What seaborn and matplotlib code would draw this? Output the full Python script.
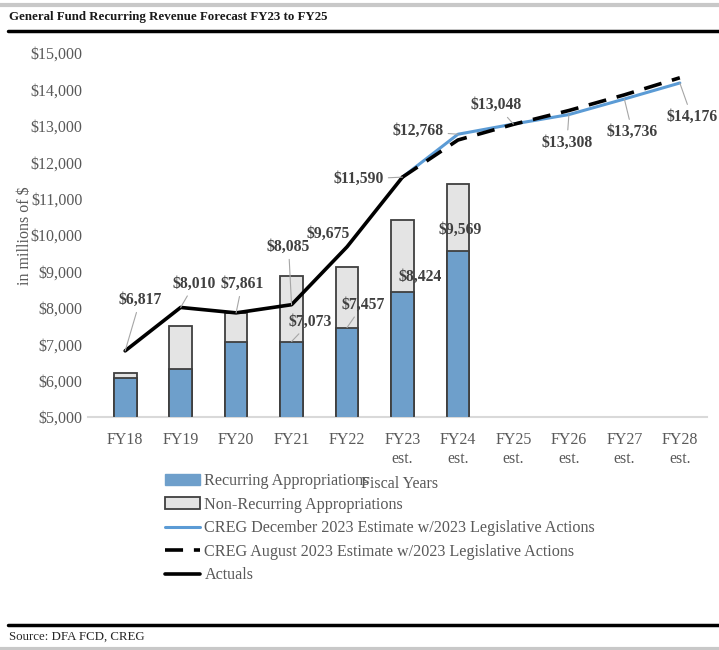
import matplotlib
matplotlib.use("Agg")
import matplotlib.pyplot as plt
import numpy as np
import pandas as pd
import seaborn as sns
from matplotlib.lines import Line2D
from matplotlib.patches import Patch

categories = ["FY18", "FY19", "FY20", "FY21", "FY22", "FY23\nest.", "FY24\nest.",
              "FY25\nest.", "FY26\nest.", "FY27\nest.", "FY28\nest."]

bar_years = ["FY18", "FY19", "FY20", "FY21", "FY22", "FY23\nest.", "FY24\nest."]
recurring = [6080, 6310, 7070, 7073, 7457, 8424, 9569]
total_approp = [6200, 7500, 7850, 8880, 9110, 10420, 11400]

actual_years = ["FY18", "FY19", "FY20", "FY21", "FY22", "FY23\nest."]
actuals = [6817, 8010, 7861, 8085, 9675, 11590]

est_years = ["FY23\nest.", "FY24\nest.", "FY25\nest.", "FY26\nest.", "FY27\nest.", "FY28\nest."]
creg_dec = [11590, 12768, 13048, 13308, 13736, 14176]
creg_aug = [11590, 12610, 13040, 13420, 13850, 14320]

yticks = np.arange(5000, 15001, 1000)

BLUE_BAR = "#6e9fcb"
GRAY_BAR = "#e4e4e4"
EDGE = "#3f3f3f"
BLUE_LINE = "#5b9bd5"
TXT = "#595959"
LBL = "#404040"

sns.set_theme(style="white")
plt.rcParams["font.family"] = ["Liberation Serif", "DejaVu Serif"]


def pos(years):
    return [categories.index(y) for y in years]


fig = plt.figure(figsize=(7.19, 6.5), dpi=100)
ax = fig.add_axes([88 / 719, 1 - 417 / 650, 619 / 719, 364 / 650])

bars = pd.DataFrame({"x": pos(bar_years), "total": total_approp, "rec": recurring})
sns.barplot(data=bars, x="x", y="total", native_scale=True, width=0.41, color=GRAY_BAR,
            saturation=1, edgecolor=EDGE, linewidth=1.3, ax=ax, zorder=2)
sns.barplot(data=bars, x="x", y="rec", native_scale=True, width=0.41, color=BLUE_BAR,
            saturation=1, edgecolor=EDGE, linewidth=1.3, ax=ax, zorder=3)

sns.lineplot(x=pos(est_years), y=creg_dec, color=BLUE_LINE, linewidth=2.2, ax=ax, zorder=4)
sns.lineplot(x=pos(est_years), y=creg_aug, color="black", linewidth=2.6, ax=ax, zorder=5)
ax.lines[-1].set_dashes((5, 3))
sns.lineplot(x=pos(actual_years), y=actuals, color="black", linewidth=2.6, ax=ax, zorder=6)

# data labels: (value, category, offset in px, leader line)
labels = [
    (6817, "FY18", 15, 51, True), (8010, "FY19", 14, 24, True),
    (7861, "FY20", 6, 29, True), (8085, "FY21", -3, 58, True),
    (9675, "FY22", -19, 13, False), (11590, "FY23\nest.", -44, -2, True),
    (7073, "FY21", 19, 20, True), (7457, "FY22", 16, 23, True),
    (8424, "FY23\nest.", 17.5, 15, False), (9569, "FY24\nest.", 2, 21, False),
    (12768, "FY24\nest.", -40, 3, True), (13048, "FY25\nest.", -17, 19, True),
    (13308, "FY26\nest.", -2, -28, True), (13736, "FY27\nest.", 8, -33, True),
    (14176, "FY28\nest.", 12, -34, True),
]
for val, yr, dx, dy, leader in labels:
    ap = dict(arrowstyle="-", color="#a6a6a6", lw=0.8, shrinkA=1, shrinkB=0) if leader else None
    ax.annotate(f"${val:,}", xy=(categories.index(yr), val), xytext=(dx * 0.72, dy * 0.72),
                textcoords="offset points", ha="center", va="center", fontsize=11.3,
                fontweight="bold", color=LBL, arrowprops=ap, zorder=7)

ax.set_xlim(-0.67, 10.49)
ax.set_ylim(5000, 15000)
ax.set_xticks(range(len(categories)))
ax.set_xticklabels(categories, fontsize=11.5, color=TXT, linespacing=1.3)
ax.set_yticks(yticks)
ax.set_yticklabels([f"${v:,}" for v in yticks], fontsize=11.5, color=TXT)
ax.tick_params(axis="x", length=0, pad=10.5)
ax.tick_params(axis="y", length=0, pad=4)
ax.set_xlabel("")
ax.set_ylabel("")
for s in ["top", "right", "left"]:
    ax.spines[s].set_visible(False)
ax.spines["bottom"].set_color("#d9d9d9")
ax.spines["bottom"].set_linewidth(1.5)
ax.grid(False)

fig.text(25 / 719, 1 - 236 / 650, "in millions of $", rotation=90, ha="center", va="center",
         fontsize=11.5, color=TXT)
fig.text(400 / 719, 1 - 484 / 650, "Fiscal Years", ha="center", va="center",
         fontsize=11.5, color=TXT, zorder=1)

handles = [
    Patch(facecolor=BLUE_BAR, edgecolor=BLUE_BAR),
    Patch(facecolor=GRAY_BAR, edgecolor=EDGE, linewidth=1.3),
    Line2D([], [], color=BLUE_LINE, lw=2.2),
    Line2D([], [], color="black", lw=2.6, dashes=(5, 3)),
    Line2D([], [], color="black", lw=2.6),
]
names = ["Recurring Appropriations", "Non-Recurring Appropriations",
         "CREG December 2023 Estimate w/2023 Legislative Actions",
         "CREG August 2023 Estimate w/2023 Legislative Actions", "Actuals"]
leg = fig.legend(handles, names, loc="upper left", bbox_to_anchor=(165 / 719, 1 - 473 / 650),
                 frameon=False, fontsize=11.6, handlelength=2.2, handletextpad=0.25,
                 labelspacing=0.47, borderaxespad=0, borderpad=0)
for t in leg.get_texts():
    t.set_color(TXT)

# title and frame rules
fig.add_artist(Line2D([0, 1], [1 - 5 / 650] * 2, color="#c8c8c8", lw=3))
fig.add_artist(Line2D([8 / 719, 1], [1 - 31 / 650] * 2, color="black", lw=2.5))
fig.add_artist(Line2D([8 / 719, 1], [1 - 625 / 650] * 2, color="black", lw=2.5))
fig.add_artist(Line2D([0, 1], [1 - 649 / 650] * 2, color="#c8c8c8", lw=3))
fig.text(9 / 719, 1 - 17 / 650, "General Fund Recurring Revenue Forecast FY23 to FY25",
         ha="left", va="center", fontsize=9.3, fontweight="bold", color="#1a1a1a")
fig.text(9 / 719, 1 - 637 / 650, "Source: DFA FCD, CREG", ha="left", va="center",
         fontsize=9.3, color="#262626")

fig.savefig("out.png", dpi=100)
